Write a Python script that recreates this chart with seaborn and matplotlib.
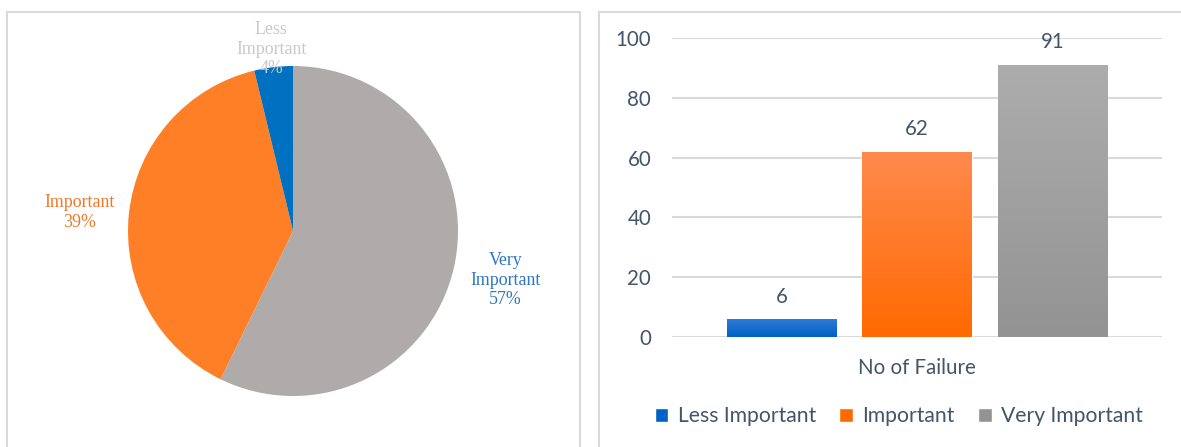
import numpy as np
import pandas as pd
import matplotlib
matplotlib.use("Agg")
import matplotlib.pyplot as plt
import seaborn as sns
from matplotlib.colors import LinearSegmentedColormap
from matplotlib.patches import Rectangle

# data
categories = ["Less Important", "Important", "Very Important"]
counts = [6, 62, 91]
group_label = "No of Failure"

pie_colors = {"Less Important": "#0070C0", "Important": "#FF7F27", "Very Important": "#AFABAB"}
pie_text_colors = {"Less Important": "#C9C9C9", "Important": "#F0782A", "Very Important": "#2E75C6"}
bar_bottom = {"Less Important": "#0062C4", "Important": "#FF6A00", "Very Important": "#939393"}
bar_top = {"Less Important": "#2F7AD6", "Important": "#FF8A4E", "Very Important": "#ADADAD"}
text_col = "#44546A"

sns.set_style("white")
plt.rcParams["font.family"] = ["Lato", "DejaVu Sans"]

fig = plt.figure(figsize=(11.81, 4.47), dpi=100)

# panel borders
fig.patches.append(Rectangle((7 / 1181, -0.1), 573 / 1181, 1.1 - 12 / 447, transform=fig.transFigure,
                             fill=False, edgecolor="#D9D9D9", linewidth=1.5))
fig.patches.append(Rectangle((599 / 1181, -0.1), 0.6, 1.1 - 12 / 447, transform=fig.transFigure,
                             fill=False, edgecolor="#D9D9D9", linewidth=1.5))

# ---- pie ----
ax1 = fig.add_axes([128 / 1181, (447 - 231 - 165) / 447, 330 / 1181, 330 / 447])
order = categories[::-1]
vals = [counts[categories.index(c)] for c in order]
total = sum(counts)
wedges, _ = ax1.pie(vals, colors=[pie_colors[c] for c in order], startangle=90,
                    counterclock=False, wedgeprops=dict(linewidth=0))
ax1.set_xlim(-1, 1)
ax1.set_ylim(-1, 1)
ax1.set_aspect("equal")
label_dist = {"Less Important": 1.11, "Important": 1.30, "Very Important": 1.32}
label_text = {"Less Important": "Less\nImportant", "Important": "Important", "Very Important": "Very\nImportant"}
for w, c, v in zip(wedges, order, vals):
    ang = np.deg2rad((w.theta1 + w.theta2) / 2)
    r = label_dist[c]
    y_shift = -0.03 if c == "Important" else 0
    ax1.text(r * np.cos(ang), r * np.sin(ang) + y_shift, f"{label_text[c]}\n{round(100 * v / total)}%",
             ha="center", va="center", color=pie_text_colors[c], fontsize=12.9,
             family=["Liberation Serif"], linespacing=1.2, zorder=5)

# ---- bar ----
ax2 = fig.add_axes([672 / 1181, 1 - 337 / 447, 490 / 1181, 299 / 447])
df = pd.DataFrame({"group": [group_label] * len(categories), "category": categories, "count": counts})
sns.barplot(data=df, x="group", y="count", hue="category", hue_order=categories,
            palette=bar_bottom, width=0.83, gap=0.19, ax=ax2, legend=True, saturation=1)
ax2.set_ylim(0, 100)
ax2.set_xlim(-0.5, 0.5)
ax2.set_yticks(range(0, 101, 20))
ax2.grid(axis="y", color="#D9D9D9", linewidth=1.5)
ax2.set_axisbelow(True)
sns.despine(ax=ax2, left=True, bottom=True)
ax2.set_xlabel("")
ax2.set_ylabel("")
ax2.tick_params(axis="both", length=0, labelsize=14.8, labelcolor=text_col)
ax2.tick_params(axis="y", pad=15)
ax2.tick_params(axis="x", pad=15)

for cont, c in zip(ax2.containers, categories):
    cmap = LinearSegmentedColormap.from_list(c, [bar_bottom[c], bar_top[c]])
    for bar in cont:
        x0, y0 = bar.get_x(), bar.get_y()
        w, h = bar.get_width(), bar.get_height()
        im = ax2.imshow(np.linspace(0, 1, 256).reshape(-1, 1), extent=[x0, x0 + w, y0, y0 + h],
                        origin="lower", aspect="auto", cmap=cmap, zorder=bar.get_zorder() + 0.1)
        im.set_clip_path(bar)
    ax2.bar_label(cont, padding=9, fontsize=14.8, color=text_col)
ax2.set_ylim(0, 100)
ax2.set_xlim(-0.5, 0.5)
ax2.set_aspect("auto")

sns.move_legend(ax2, "center", bbox_to_anchor=(899 / 1181, 1 - 416 / 447), bbox_transform=fig.transFigure,
                ncol=3, frameon=False, title=None, fontsize=15.2, handlelength=0.65, handleheight=0.65,
                handletextpad=0.45, columnspacing=1.1)
for t in ax2.get_legend().get_texts():
    t.set_color(text_col)

fig.savefig("out.png", dpi=100)
